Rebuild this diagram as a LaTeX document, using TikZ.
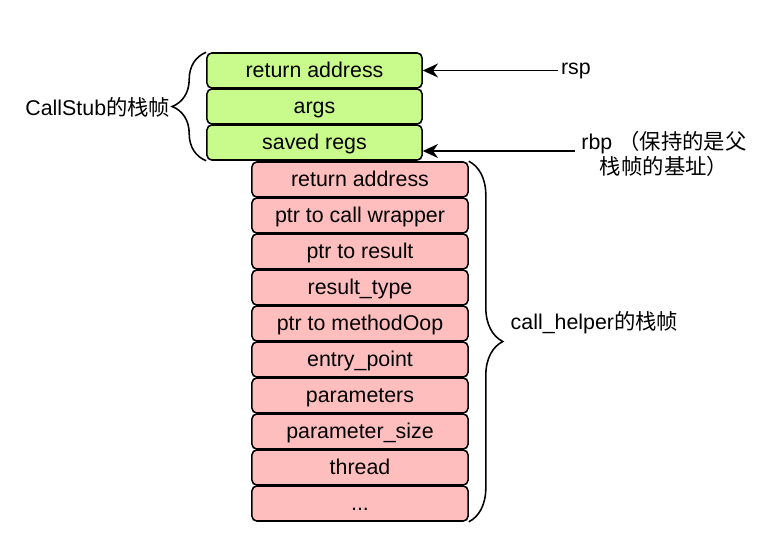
\documentclass[tikz,border=0pt]{standalone}
\usepackage{fontspec}
\setmainfont{Liberation Sans}
\newfontfamily\cjk{Noto Sans CJK SC}
\usepackage{tikz}
\usetikzlibrary{arrows.meta,decorations.pathreplacing}
\usepackage{xcolor}
\definecolor{stubgreen}{RGB}{200,250,140}
\definecolor{helperpink}{RGB}{255,190,190}
\tikzstyle{arrow} = [line width=1.1pt,-{Stealth[length=0.38cm,width=0.35cm]},color=black]
\tikzstyle{stubbox} = [rectangle, rounded corners=0.12cm, minimum width=5.375cm, minimum height=0.875cm, inner sep=0pt, text height=1.1em, text depth=0.09em, text centered, draw=black, fill=stubgreen, line width=1.1pt]
\tikzstyle{helperbox} = [stubbox, minimum width=5.4cm, fill=helperpink]
\tikzstyle{framebrace} = [decorate, decoration={brace,amplitude=0.85cm}, line width=1.1pt]

\begin{document}
\begin{tikzpicture}[x=0.025cm, y=-0.025cm, font=\fontsize{15.2}{17.8}\selectfont]
\useasboundingbox (0,0) rectangle (768,542);
% CallStub frame
\node[stubbox] (gret) at (314.5,70.5) {return address};
\node[stubbox] (gargs) at (314.5,106.5) {args};
\node[stubbox] (gsaved) at (314.5,142.5) {saved regs};

% call_helper frame
\node[helperbox] (rret) at (360,179.5) {return address};
\node[helperbox] (rwrap) at (360,215.5) {ptr to call wrapper};
\node[helperbox] (rresult) at (360,251.5) {ptr to result};
\node[helperbox] (rtype) at (360,287.5) {result\_type};
\node[helperbox] (rmethod) at (360,323.5) {ptr to methodOop};
\node[helperbox] (rentry) at (360,359.5) {entry\_point};
\node[helperbox] (rparams) at (360,395.5) {parameters};
\node[helperbox] (rsize) at (360,431.5) {parameter\_size};
\node[helperbox] (rthread) at (360,467.5) {thread};
\node[helperbox] (rdots) at (360,503.5) {...};

% Braces and their labels
\draw[framebrace] (gsaved.south west) -- (gret.north west);
\node[anchor=east, inner sep=1pt] (stublbl) at (172,107) {CallStub{\cjk 的栈帧}};
\draw[framebrace] (rret.north east) -- (rdots.south east);
\node[anchor=west, inner sep=1pt] (helperlbl) at (509,323) {call\_helper{\cjk 的栈帧}};

% Registers
\node[anchor=west, inner sep=2pt] (rsp) at (558,70.5) {rsp};
\draw[arrow] (rsp.west) -- (gret.east);
\node[align=center] (rbp) at (664,154) {rbp {\cjk （保持的是父}\\{\cjk 栈帧的基址）}};
\coordinate (rbpend) at (575,151);
\draw[arrow] (rbpend) -- (rbpend -| gsaved.east);
\end{tikzpicture}
\end{document}
